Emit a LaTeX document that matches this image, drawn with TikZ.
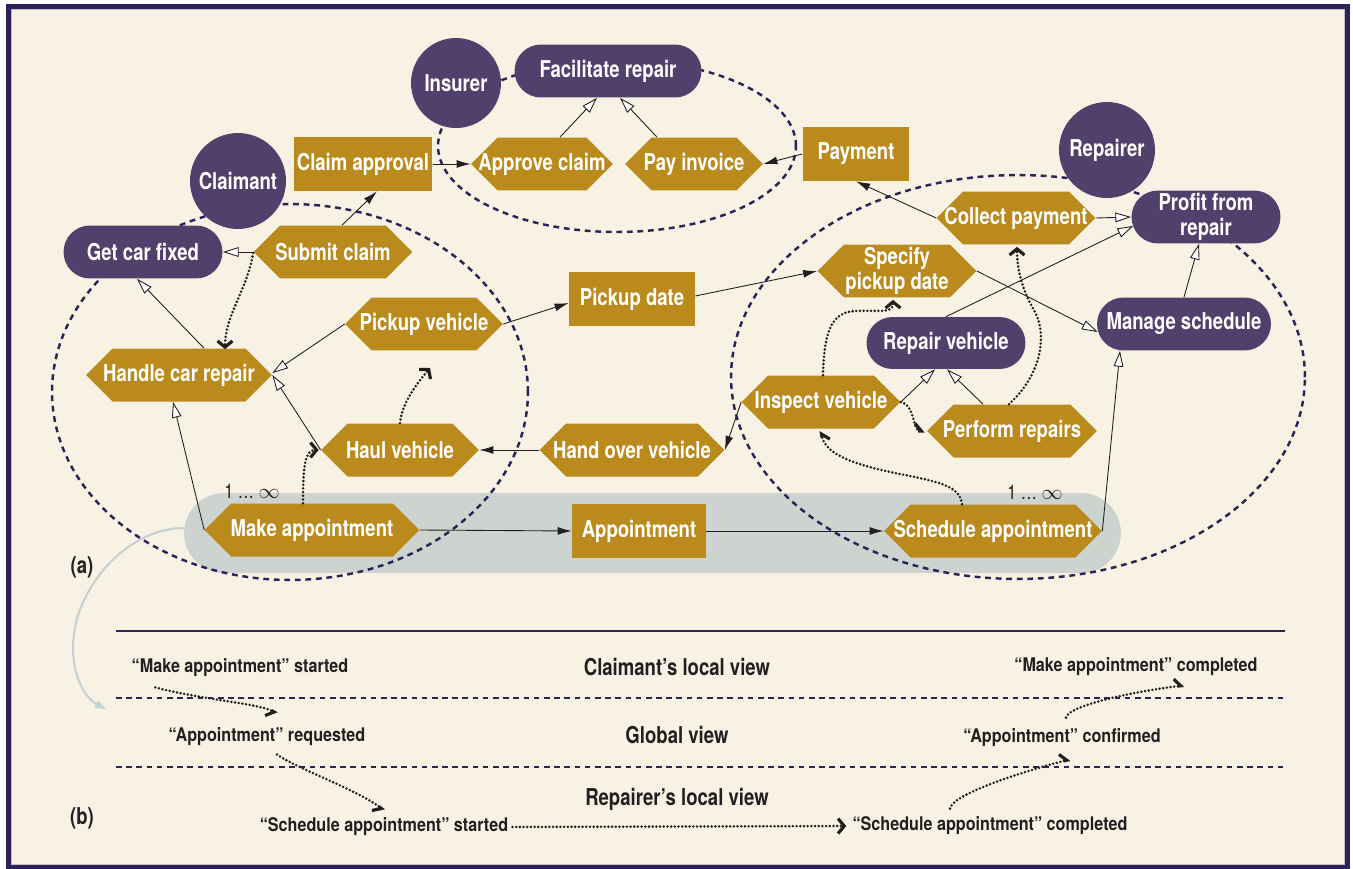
\documentclass[tikz,border=0pt]{standalone}
\usepackage{fontspec}
\setmainfont{TeX Gyre Heros}[FakeStretch=0.8]
\newfontfamily\lblfamily{TeX Gyre Heros}[FakeStretch=0.86]
\usetikzlibrary{arrows.meta,shapes.misc,calc}

\definecolor{cream}{HTML}{F8F2E4}
\definecolor{framec}{HTML}{2E2058}
\definecolor{actor}{HTML}{52406C}
\definecolor{gold}{HTML}{BA8A1C}
\definecolor{bandc}{HTML}{CDD3CE}
\definecolor{ink}{HTML}{231F20}
\definecolor{ringc}{HTML}{2E2257}
\definecolor{flowc}{HTML}{C5D2D3}

\newcommand\nodetxt{\bfseries\fontsize{13.2pt}{14pt}\selectfont}
\newcommand\lbltxt{\lblfamily\bfseries\fontsize{10.7pt}{12pt}\selectfont}

\tikzset{
  role/.style={circle, fill=actor, text=white, font=\nodetxt, inner sep=0pt},
  goalpill/.style={rounded rectangle, fill=actor, text=white, font=\nodetxt,
    minimum height=1.06cm, inner sep=0pt, align=center},
  artefact/.style={rectangle, fill=gold, text=white, font=\nodetxt,
    minimum height=1.08cm, inner sep=0pt, align=center},
  task/.style={rectangle, text=white, font=\nodetxt, minimum height=1.06cm,
    inner sep=0pt, align=center,
    path picture={\fill[gold] (path picture bounding box.west)
      -- ([xshift=0.53cm]path picture bounding box.north west)
      -- ([xshift=-0.53cm]path picture bounding box.north east)
      -- (path picture bounding box.east)
      -- ([xshift=-0.53cm]path picture bounding box.south east)
      -- ([xshift=0.53cm]path picture bounding box.south west) -- cycle;}},
  bandshape/.style={rounded rectangle, fill=bandc, minimum width=18.74cm,
    minimum height=1.6cm, inner sep=0pt},
  ring/.style={draw=ringc, line width=1.4pt, dash pattern=on 3.3pt off 2.7pt},
  gen/.style={ink, line width=0.5pt, -{Triangle[open, fill=white, length=9pt, width=5.5pt]}},
  flowarr/.style={ink, line width=0.5pt, -{Latex[length=8pt, width=4.5pt]}},
  seq/.style={ink, line width=1.6pt, line cap=round, dash pattern=on 0pt off 2.1pt},
  chev/.style={-{Straight Barb[length=3.5pt, width=8.5pt, line width=1.8pt]}},
  halfl/.style={-{Straight Barb[left, length=3.5pt, width=8.5pt, line width=1.8pt]}},
  halfr/.style={-{Straight Barb[right, length=3.5pt, width=8.5pt, line width=1.8pt]}},
  mult/.style={text=ink, font=\fontsize{11.5pt}{12pt}\selectfont, inner sep=0pt},
  lbl/.style={text=ink, font=\lbltxt, inner sep=0pt},
  head/.style={text=ink, font=\nodetxt, inner sep=0pt},
  panel/.style={text=ink, font=\nodetxt, inner sep=0pt},
  sepline/.style={draw=framec, line width=1.2pt},
  laneline/.style={draw=ringc, line width=1.2pt, dash pattern=on 3.2pt off 2.6pt},
  backflow/.style={draw=flowc, line width=1.2pt, -{Latex[length=7pt, width=5pt]}}
}

\begin{document}
\begin{tikzpicture}[x=0.02cm, y=-0.02cm]
\useasboundingbox (0,0) rectangle (1353,869);
\fill[white] (0,0) rectangle (1353,869);
\fill[cream] (8,6) rectangle (1347,866);
\draw[framec, line width=0.1cm] (8.5,6.5) rectangle (1347.5,866.5);
\draw[black!25, line width=0.5pt] (11.5,9.8) rectangle (1344.5,864);

% shared band of the appointment interaction
\node[bandshape] (band) at (652.5,533) {};

% domains of the three roles
\draw[ring] (290,392) ellipse [x radius=4.76cm, y radius=3.76cm];
\draw[ring] (617,146) ellipse [x radius=3.58cm, y radius=1.72cm];
\draw[ring] (1018,377) ellipse [x radius=5.74cm, y radius=4.04cm];

% roles
\node[role, minimum size=1.8cm] (insurer) at (456,83) {Insurer};
\node[role, minimum size=1.92cm] (claimant) at (238,181) {Claimant};
\node[role, minimum size=1.92cm] (repairer) at (1107,150) {Repairer};

% goals
\node[goalpill, minimum width=3.74cm] (facil) at (608,71) {Facilitate repair};
\node[goalpill, minimum width=3.18cm] (getcar) at (143,252) {Get car fixed};
\node[goalpill, minimum width=2.98cm] (profit) at (1206,217) {Profit from\\repair};
\node[goalpill, minimum width=3.18cm, minimum height=1.04cm] (repairv) at (946,343) {Repair vehicle};
\node[goalpill, minimum width=3.48cm] (manage) at (1184,324) {Manage schedule};

% exchanged artefacts
\node[artefact, minimum width=2.78cm] (claimappr) at (363,164) {Claim approval};
\node[artefact, minimum width=2.14cm] (payment) at (856,154) {Payment};
\node[artefact, minimum width=2.52cm] (pickupdate) at (632,299) {Pickup date};
\node[artefact, minimum width=2.68cm] (appt) at (639,531) {Appointment};

% tasks
\node[task, minimum width=3.18cm] (submit) at (333,252) {Submit claim};
\node[task, minimum width=2.84cm] (approve) at (542,164) {Approve claim};
\node[task, minimum width=2.76cm] (payinv) at (694,164) {Pay invoice};
\node[task, minimum width=3.18cm] (collect) at (1016,218) {Collect payment};
\node[task, minimum width=3.18cm] (specify) at (897,271) {Specify\\pickup date};
\node[task, minimum width=3.72cm] (handle) at (179,375) {Handle car repair};
\node[task, minimum width=3.16cm] (pickupv) at (424,324) {Pickup vehicle};
\node[task, minimum width=3.16cm] (haul) at (400,450) {Haul vehicle};
\node[task, minimum width=4.30cm] (makeappt) at (312,530) {Make appointment};
\node[task, minimum width=4.36cm] (schedappt) at (993,531) {Schedule appointment};
\node[task, minimum width=3.70cm] (handover) at (632,450) {Hand over vehicle};
\node[task, minimum width=3.18cm] (inspect) at (821,402) {Inspect vehicle};
\node[task, minimum width=3.40cm] (perform) at (1012,431) {Perform repairs};

\node[mult] (multl) at (252,491) {1 … $\infty$};
\node[mult] (multr) at (1035,492) {1 … $\infty$};
\node[panel] (pla) at (82,567) {(a)};

% decomposition links
\draw[gen] (submit.west) -- (getcar.east);
\draw[gen] ($(approve.north)+(18,0)$) -- ($(facil.south)+(-11,0)$);
\draw[gen] ($(payinv.north)+(-37,0)$) -- ($(facil.south)+(12,0)$);
\draw[gen] (collect.east) -- (profit.west);
\draw[gen] (repairv.north) -- ($(profit.west)+(2,9)$);
\draw[gen] (specify.east) -- ($(manage.west)+(1,8)$);
\draw[gen] (manage.north) -- ($(profit.south)+(-7,0)$);
\draw[gen] (schedappt.east) -- ($(manage.south)+(-64,0)$);
\draw[gen] ($(perform.north)+(-29,0)$) -- ($(repairv.south)+(1,0)$);
\draw[gen] (inspect.east) -- ($(repairv.south)+(-11,0)$);
\draw[gen] (haul.west) -- (handle.east);
\draw[gen] (pickupv.west) -- ($(handle.east)+(0,-2)$);
\draw[gen] ($(handle.north)+(25,0)$) -- ($(getcar.south)+(-6,0)$);
\draw[gen] (makeappt.west) -- ($(handle.south)+(-6,0)$);

% artefact flows
\draw[flowarr] ($(submit.north)+(9,0)$) -- ($(claimappr.south)+(14,0)$);
\draw[flowarr] (claimappr.east) -- (approve.west);
\draw[flowarr] (payment.west) -- (payinv.east);
\draw[flowarr] (collect.west) -- (payment.south);
\draw[flowarr] (inspect.west) -- (handover.east);
\draw[flowarr] (handover.west) -- (haul.east);
\draw[flowarr] (pickupv.east) -- ($(pickupdate.west)+(0,4)$);
\draw[flowarr] ($(pickupdate.east)+(0,-3)$) -- (specify.west);
\draw[flowarr] (makeappt.east) -- (appt.west);
\draw[flowarr] (appt.east) -- (schedappt.west);

% sequencing
\coordinate (haulnext) at (430,368);
\draw[seq, chev] ($(submit.west)+(0,1)$) .. controls +(-6,37) and +(0,-34) .. ($(handle.north)+(46,1)$);
\draw[seq, chev] ($(makeappt.north)+(-9,0)$) .. controls +(0,-36) and +(-14,0) .. ($(haul.west)+(-2,0)$);
\draw[seq, chev] (haul.north) .. controls +(2,-22) and +(-10,12) .. (haulnext);
\draw[seq, chev] ($(inspect.north)+(2,0)$) .. controls +(1,-40) and +(-25,1) .. (855,311)
  .. controls +(25,-1) and +(0,14) .. ($(specify.south)+(-4,2)$);
\draw[seq, halfl] (inspect.east) .. controls +(14,2) and +(-12,0) .. ($(perform.west)+(-2,0)$);
\draw[seq, chev] ($(perform.north)+(-3,0)$) .. controls +(31,-28) and +(13,25) .. (1035,312)
  .. controls +(-13,-22) and +(0,23) .. ($(collect.south)+(1,2)$);
\draw[seq, halfr] ($(schedappt.north)+(-31,0)$) .. controls +(-2,-18) and +(40,8) .. (900,474)
  .. controls +(-40,-8) and +(4,25) .. ($(inspect.south)+(0,2)$);

% link from the band to the event views
\coordinate (viewsin) at (107,710);
\draw[backflow] ($(band.west)+(0,-5)$) .. controls +(-44,0) and +(17,-50) .. (78,615)
  .. controls +(-13,45) and +(-27,-15) .. (viewsin);

% event views
\draw[sepline] (116,631) -- (1285,631);
\draw[laneline] (116,698) -- (1285,698);
\draw[laneline] (116,767) -- (1285,767);

\node[lbl] (mkstart) at (240,668) {“Make appointment” started};
\node[head] (cview) at (677,667) {Claimant’s local view};
\node[lbl] (mkdone) at (1136,667) {“Make appointment” completed};
\node[lbl] (apreq) at (267,737) {“Appointment” requested};
\node[head] (gview) at (677,735) {Global view};
\node[lbl] (apconf) at (1062,738) {“Appointment” confirmed};
\node[head] (rview) at (677,799) {Repairer’s local view};
\node[lbl] (scstart) at (384,827) {“Schedule appointment” started};
\node[lbl] (scdone) at (990,826) {“Schedule appointment” completed};
\node[panel] (plb) at (82,818) {(b)};

\draw[seq, halfr] ($(mkstart.south west)+(24,10)$) .. controls +(45,12) and +(-18,-10) .. ($(apreq.north)+(10,-14)$);
\draw[seq, halfr] ($(apreq.south)+(10,8)$) .. controls +(15,12) and +(-25,-20) .. ($(scstart.north)+(0,-7)$);
\draw[seq, chev] ($(scstart.east)+(4,0)$) -- ($(scdone.west)+(-6,0)$);
\draw[seq, halfl] ($(scdone.north)+(-40,-8)$) .. controls +(2,-15) and +(-40,10) .. ($(apconf.south)+(8,12)$);
\draw[seq, halfl] ($(apconf.north)+(4,-11)$) .. controls +(2,-12) and +(-50,6) .. ($(mkdone.south)+(48,9)$);
\end{tikzpicture}
\end{document}
